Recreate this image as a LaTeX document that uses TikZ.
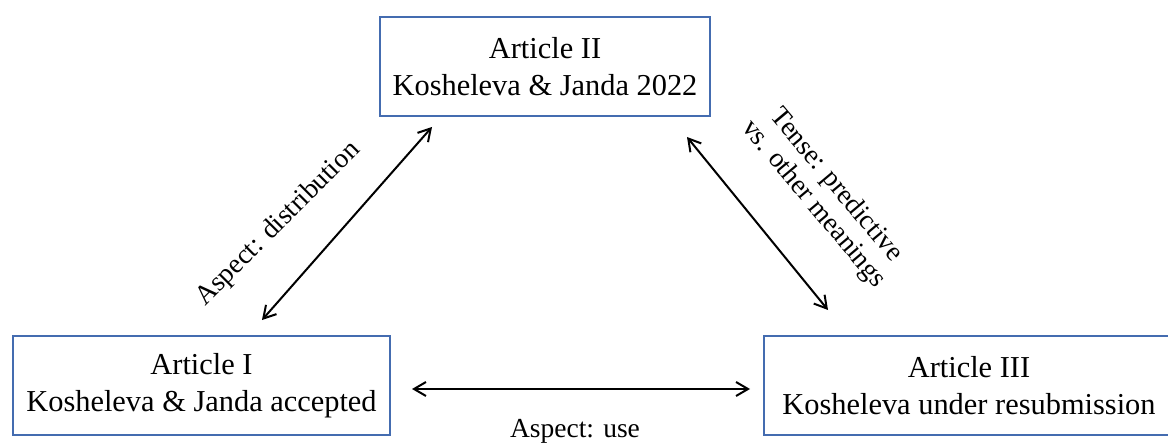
\documentclass[tikz,border=0pt]{standalone}
\usepackage{fontspec}
\setmainfont{Liberation Serif}
\usetikzlibrary{arrows.meta}
\definecolor{boxblue}{RGB}{68,108,176}
\tikzset{
  article/.style={draw=boxblue, line width=1pt, rectangle, inner sep=0pt,
    minimum height=49.5pt, align=center,
    font=\fontsize{15.2}{18.5}\selectfont},
  link/.style={line width=1pt, {Straight Barb[length=6pt,width=7pt]}-{Straight Barb[length=6pt,width=7pt]}},
  linklabel/.style={inner sep=0pt, align=center, font=\fontsize{13.75}{14.6}\selectfont}
}
\begin{document}
\begin{tikzpicture}[x=0.5pt,y=-0.5pt]
  \useasboundingbox (0,0) rectangle (1168,444);

  % the three articles
  \node[article, minimum width=165pt] (II) at (545,66.5) {Article II\\Kosheleva \& Janda 2022};
  \node[article, minimum width=188.5pt] (I) at (201.5,385.5) {Article I\\Kosheleva \& Janda accepted};
  \node[article, minimum width=205pt] (III) at (969,385.5) {Article III\\Kosheleva under resubmission};

  % arrow end points
  \coordinate (IdiagEnd) at (262,320);
  \coordinate (IIdiagL) at (432,127);
  \coordinate (IIdiagR) at (687,137);
  \coordinate (IIIdiagEnd) at (828,310);
  \coordinate (IhorEnd) at (412,389);
  \coordinate (IIIhorEnd) at (750,389);

  % relations between the articles
  \draw[link] (IdiagEnd) -- (IIdiagL);
  \draw[link] (IIdiagR) -- (IIIdiagEnd);
  \draw[link] (IhorEnd) -- (IIIhorEnd);

  % relation labels
  \node[linklabel, anchor=base, rotate=45] (labI) at (283,229) {Aspect: distribution};
  \node[linklabel, rotate=-50] (labIII) at (824.5,195) {Tense: predictive\\vs. other meanings};
  \node[linklabel, anchor=base] (labH) at (575,437) {Aspect: use};
\end{tikzpicture}
\end{document}
